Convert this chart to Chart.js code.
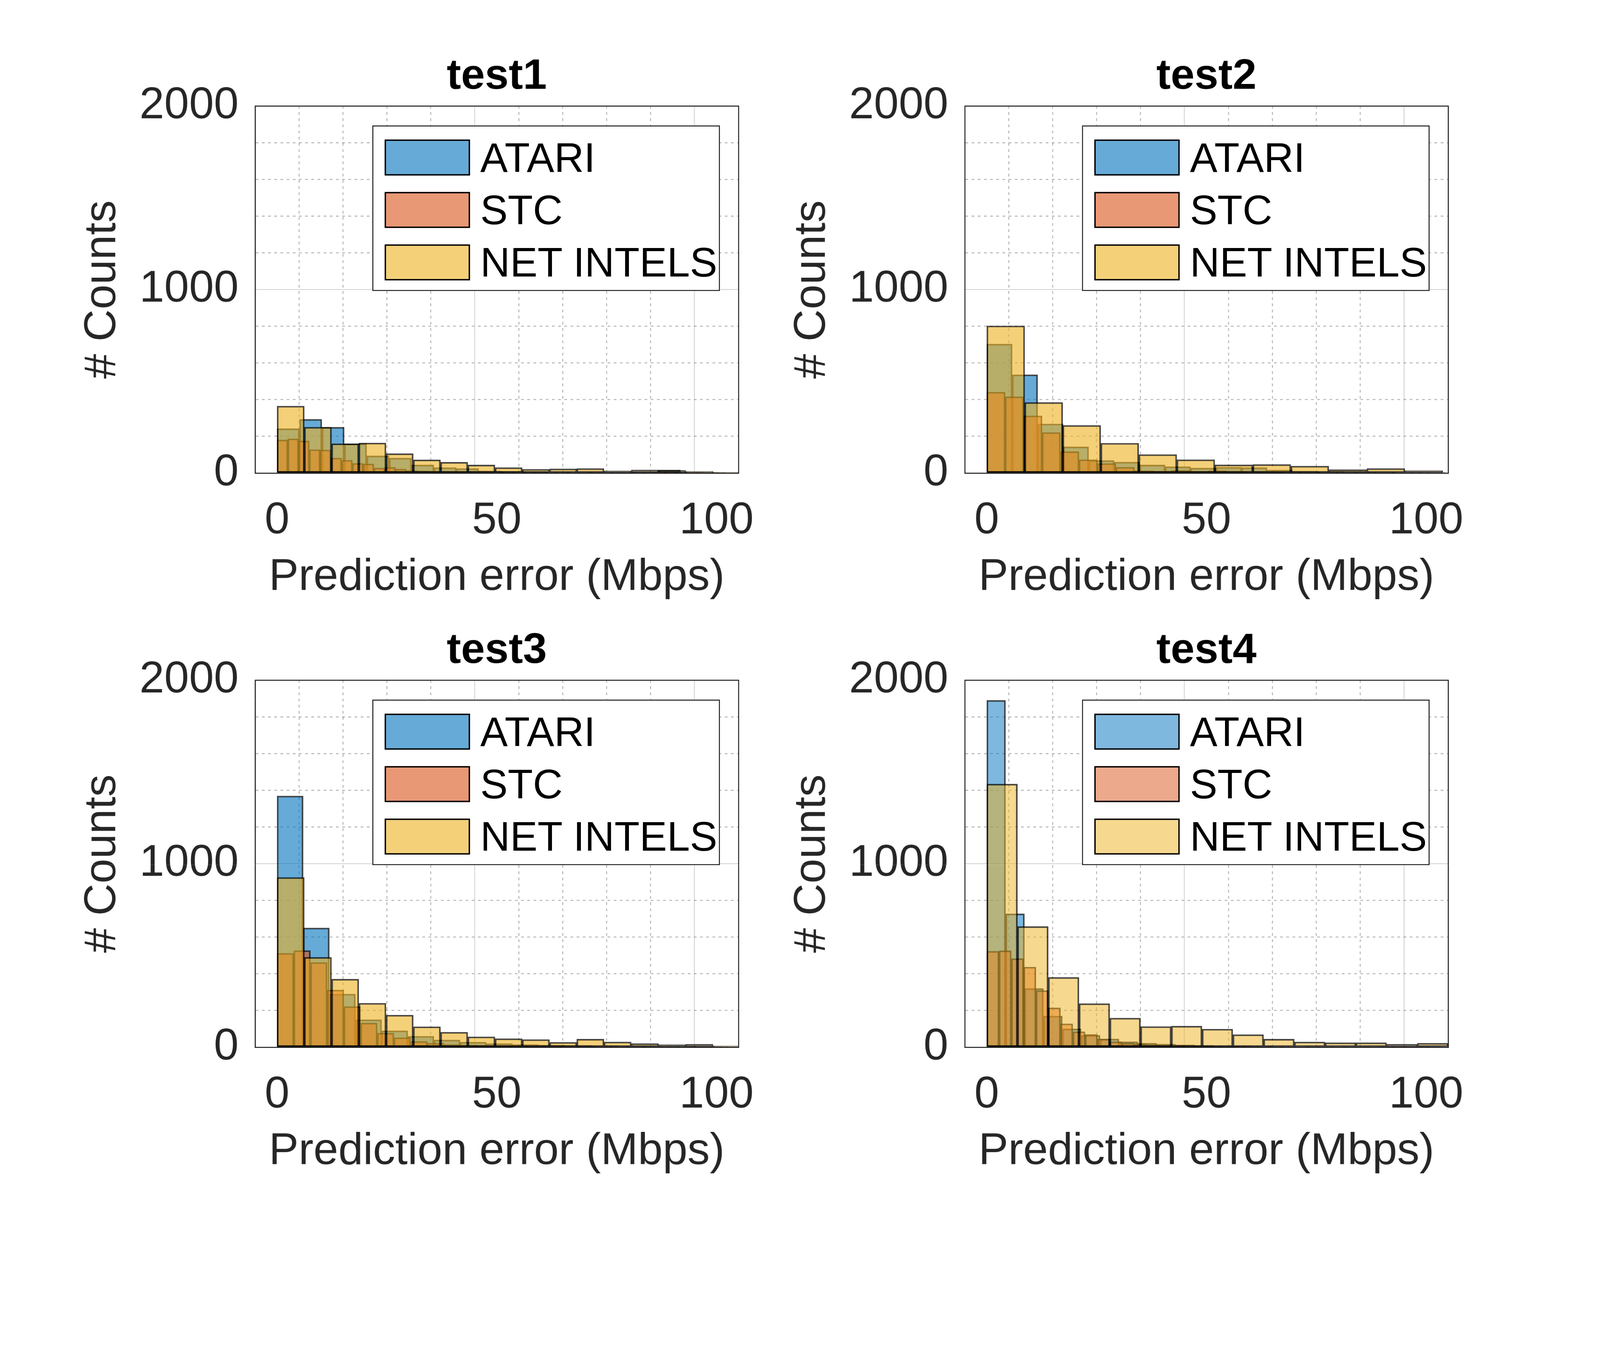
<!DOCTYPE html>
<html>
<head>
<meta charset="utf-8">
<script src="https://cdn.jsdelivr.net/npm/chart.js@4.4.1/dist/chart.umd.min.js"></script>
<style>
  html, body { margin: 0; padding: 0; background: #fff; overflow: hidden; }
  #page { position: absolute; left: 0; top: 0; width: 4667px; height: 3500px; transform-origin: 0 0; background: #fff; }
  .panel { position: absolute; width: 2333px; height: 1750px; }
  .panel canvas { position: absolute; left: 0; top: 0; }
  .legend { position: absolute; box-sizing: border-box; width: 1014px; height: 483px;
            border: 3px solid #262626; background: #fff; font-family: "Liberation Sans", Arial, sans-serif; }
  .legend .sw { position: absolute; left: 33px; width: 249px; height: 105px; box-sizing: border-box; border: 4px solid #000; }
  .legend .lb { position: absolute; left: 312px; font-size: 120px; line-height: 120px; color: #000; white-space: nowrap; }
</style>
</head>
<body>
<div id="page"></div>
<script>
// Series names and panel titles
const seriesNames = ['ATARI', 'STC', 'NET INTELS'];
const panelTitles = ['test1', 'test2', 'test3', 'test4'];

// Histogram bin widths (Mbps) per panel: [ATARI, STC, NET INTELS]
const binWidths = [
  [5.1, 2.45, 6.2],
  [5.8, 4.2, 8.65],
  [5.95, 3.8, 6.2],
  [4.3, 2.8, 7.0]
];

// Counts per bin
const atari1 = [242, 293, 250, 160, 94, 82, 44, 30, 25, 12, 10, 8, 6, 5, 5, 6, 5, 17, 5, 3];
const stc1 = [181, 187, 175, 128, 126, 82, 70, 53, 50, 28, 31, 22, 14, 12, 10, 9, 8, 7, 6, 6, 5, 5, 4, 4, 4, 3, 3, 3, 3, 2, 2, 2, 2, 2, 2, 1, 1, 1, 1, 1, 1];
const net1 = [365, 250, 160, 164, 106, 72, 59, 44, 30, 21, 23, 25, 12, 17, 15, 9, 5];

const atari2 = [703, 536, 268, 143, 69, 60, 44, 35, 28, 32, 30, 16, 10, 8, 6, 5, 4, 4];
const stc2 = [441, 416, 312, 221, 117, 73, 52, 32, 13, 11, 15, 10, 13, 8, 6, 6, 4, 4, 3, 3, 2, 2, 2, 2];
const net2 = [802, 385, 260, 163, 101, 73, 45, 47, 38, 19, 25, 13];

const atari3 = [1369, 650, 290, 150, 90, 60, 40, 28, 20, 15, 12, 10, 8, 6, 5, 5, 4];
const stc3 = [512, 527, 462, 312, 222, 132, 77, 52, 32, 22, 15, 12, 10, 8, 7, 6, 5, 4, 4, 3, 3, 3, 2, 2, 2, 2, 2];
const net3 = [925, 490, 371, 240, 175, 112, 82, 57, 47, 42, 27, 44, 29, 20, 14, 16, 8];

const atari4 = [1890, 727, 320, 170, 100, 65, 45, 30, 22, 17, 13, 10, 8, 7, 6, 5, 4, 4, 3, 3, 3, 2, 2, 2];
const stc4 = [523, 526, 483, 437, 309, 215, 128, 85, 70, 45, 30, 22, 18, 14, 11, 9, 8, 7, 6, 5, 5, 4, 4, 3, 3, 3, 2, 2, 2, 2, 2, 2, 1, 1, 1, 1];
const net4 = [1434, 658, 381, 238, 159, 113, 115, 99, 69, 44, 29, 25, 25, 16, 22];

const panelCounts = [
  [atari1, stc1, net1],
  [atari2, stc2, net2],
  [atari3, stc3, net3],
  [atari4, stc4, net4]
];

// Axis ticks
const xMajorTicks = [0, 50, 100];
const yMajorTicks = [0, 1000, 2000];

const baseRGB = ['0,114,189', '217,83,25', '237,177,32'];
const panelAlpha = [0.6, 0.6, 0.6, 0.5];
const panelPos = [[0, 0], [2070, 0], [0, 1675], [2070, 1675]];
const FONT = '"Liberation Sans", Arial, sans-serif';
const AXIS = '#262626';

// fit the 4667x3500 layout into whatever viewport we actually get
const page = document.getElementById('page');
const fitScale = Math.min(window.innerWidth / 4667, window.innerHeight / 3500) || 1;
page.style.transform = `scale(${fitScale})`;

function toBins(counts, w) {
  return counts.map((c, i) => ({ x: (i + 0.5) * w, y: c }));
}

const gridDash = (ctx, majors) => {
  if (!ctx.tick) return [];
  return majors.includes(ctx.tick.value) ? [] : [8, 10];
};

panelTitles.forEach((title, p) => {
  const div = document.createElement('div');
  div.className = 'panel';
  div.style.left = panelPos[p][0] + 'px';
  div.style.top = panelPos[p][1] + 'px';
  const canvas = document.createElement('canvas');
  canvas.width = 2333; canvas.height = 1750;
  canvas.style.width = '2333px'; canvas.style.height = '1750px';
  div.appendChild(canvas);
  page.appendChild(div);

  const a = panelAlpha[p];
  const axisIds = ['x', 'xs', 'xn'];
  const datasets = seriesNames.map((name, s) => ({
    label: name,
    data: toBins(panelCounts[p][s], binWidths[p][s]),
    xAxisID: axisIds[s],
    yAxisID: 'y',
    order: 3 - s,
    grouped: false,
    barPercentage: 1,
    categoryPercentage: 1,
    backgroundColor: `rgba(${baseRGB[s]},${a})`,
    borderColor: 'rgba(0,0,0,0.75)',
    borderWidth: 4,
    borderSkipped: false
  }));

  const hiddenX = { type: 'linear', min: 0, max: 100, display: false };

  const chart = new Chart(canvas, {
    type: 'bar',
    data: { datasets },
    options: {
      responsive: false,
      animation: false,
      devicePixelRatio: 1,
      layout: { padding: { left: 222, right: 179, top: 100, bottom: 0 } },
      plugins: { legend: { display: false }, title: { display: false }, tooltip: { enabled: false } },
      scales: {
        x: {
          type: 'linear', position: 'bottom', min: 0, max: 100,
          afterFit: s => { s.height = 370; },
          ticks: {
            stepSize: 10, autoSkip: false, padding: 62, maxRotation: 0,
            color: AXIS, font: { family: FONT, size: 130 },
            callback: v => xMajorTicks.includes(v) ? v : ''
          },
          grid: {
            drawTicks: false, lineWidth: 3,
            color: ctx => ctx.tick && xMajorTicks.includes(ctx.tick.value) ? 'rgba(0,0,0,0.15)' : 'rgba(0,0,0,0.28)'
          },
          border: { display: true, color: AXIS, width: 3, dash: ctx => gridDash(ctx, xMajorTicks) },
          title: {
            display: true, text: 'Prediction error (Mbps)', color: AXIS, padding: 0,
            font: { family: FONT, size: 130, lineHeight: 1 }
          }
        },
        xs: hiddenX,
        xn: hiddenX,
        xTop: {
          type: 'linear', position: 'top', min: 0, max: 100,
          afterFit: s => { s.height = 209; },
          ticks: { display: false },
          grid: { drawOnChartArea: false, drawTicks: false },
          border: { display: true, color: AXIS, width: 3 },
          title: {
            display: true, text: title, color: '#000', padding: { top: 62, bottom: 22 },
            font: { family: FONT, size: 125, weight: 'bold', lineHeight: 1 }
          }
        },
        y: {
          type: 'linear', position: 'left', min: 0, max: 2000,
          afterFit: s => { s.width = 522; },
          ticks: {
            stepSize: 200, autoSkip: false, padding: 48,
            color: AXIS, font: { family: FONT, size: 130 },
            callback: v => yMajorTicks.includes(v) ? v : ''
          },
          grid: {
            drawTicks: false, lineWidth: 3,
            color: ctx => ctx.tick && yMajorTicks.includes(ctx.tick.value) ? 'rgba(0,0,0,0.15)' : 'rgba(0,0,0,0.28)'
          },
          border: { display: true, color: AXIS, width: 3, dash: ctx => gridDash(ctx, yMajorTicks) },
          title: {
            display: true, text: '# Counts', color: AXIS, padding: { top: 13, bottom: 0 },
            font: { family: FONT, size: 130, lineHeight: 1 }
          }
        },
        yRight: {
          type: 'linear', position: 'right', min: 0, max: 1,
          afterFit: s => { s.width = 0; },
          ticks: { display: false },
          grid: { drawOnChartArea: false, drawTicks: false },
          border: { display: true, color: AXIS, width: 3 }
        }
      }
    }
  });

  // Legend box inside the plot, upper right
  const area = chart.chartArea;
  const leg = document.createElement('div');
  leg.className = 'legend';
  leg.style.left = (area.right - 54 - 1014) + 'px';
  leg.style.top = (area.top + 57) + 'px';
  seriesNames.forEach((name, s) => {
    const cy = 90 + s * 153;
    const sw = document.createElement('div');
    sw.className = 'sw';
    sw.style.top = (cy - 52) + 'px';
    sw.style.background = `rgba(${baseRGB[s]},${a})`;
    const lb = document.createElement('div');
    lb.className = 'lb';
    lb.style.top = (cy - 60) + 'px';
    lb.textContent = name;
    leg.appendChild(sw);
    leg.appendChild(lb);
  });
  div.appendChild(leg);
});
</script>
</body>
</html>
